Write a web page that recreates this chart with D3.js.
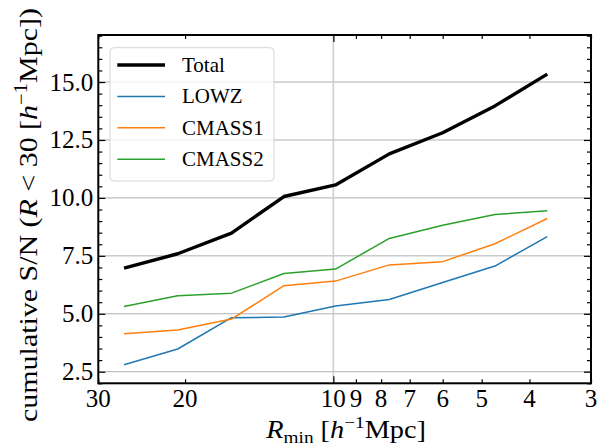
<!DOCTYPE html>
<html>
<head>
<meta charset="utf-8">
<script src="https://cdn.jsdelivr.net/npm/d3@7"></script>
<style>
  html, body { margin: 0; padding: 0; background: #fff; }
  svg { display: block; font-family: 'Liberation Serif', 'Times New Roman', serif; }
</style>
</head>
<body>
<div id="chart"></div>
<script>
// R_min bin centres (h^-1 Mpc)
const rmin = [26.6, 20.7, 16.1, 12.6, 9.9, 7.7, 6.0, 4.7, 3.68]

const totalSN = [6.97, 7.59, 8.48, 10.06, 10.56, 11.9, 12.81, 13.97, 15.34]
const lowzSN = [2.8, 3.48, 4.83, 4.86, 5.34, 5.62, 6.35, 7.06, 8.33]
const cmass1SN = [4.14, 4.3, 4.77, 6.21, 6.41, 7.11, 7.25, 8.02, 9.11]
const cmass2SN = [5.31, 5.78, 5.89, 6.74, 6.93, 8.25, 8.82, 9.28, 9.45]

const xTickLabels = [30, 20, 10, 9, 8, 7, 6, 5, 4, 3]
const xMajorTicks = [10]
const yTicks = [2.5, 5, 7.5, 10, 12.5, 15]

const seriesList = [
  { label: 'Total', values: totalSN, color: '#000000', width: 3.4 },
  { label: 'LOWZ', values: lowzSN, color: '#1f77b4', width: 1.5 },
  { label: 'CMASS1', values: cmass1SN, color: '#ff7f0e', width: 1.5 },
  { label: 'CMASS2', values: cmass2SN, color: '#2ca02c', width: 1.5 },
]

const width = 609
const height = 445
const margin = { top: 35, right: 18, bottom: 61.7, left: 98.3 }
const innerW = width - margin.left - margin.right
const innerH = height - margin.top - margin.bottom

const svg = d3.select('#chart').append('svg').attr('width', width).attr('height', height)
const g = svg.append('g').attr('transform', `translate(${margin.left},${margin.top})`)

const x = d3.scaleLog().domain([30, 3]).range([0, innerW])
const y = d3.scaleLinear().domain([2.0, 17.03]).range([innerH, 0])

// grid
g.append('g')
  .selectAll('line')
  .data(yTicks)
  .join('line')
  .attr('x1', 0)
  .attr('x2', innerW)
  .attr('y1', (d) => y(d))
  .attr('y2', (d) => y(d))
  .attr('stroke', '#b0b0b0')
  .attr('stroke-width', 1)

g.append('g')
  .selectAll('line')
  .data(xMajorTicks)
  .join('line')
  .attr('x1', (d) => x(d))
  .attr('x2', (d) => x(d))
  .attr('y1', 0)
  .attr('y2', innerH)
  .attr('stroke', '#cfcfcf')
  .attr('stroke-width', 1.6)

// lines (coloured first, total on top)
const line = d3
  .line()
  .x((d, i) => x(rmin[i]))
  .y((d) => y(d))

g.append('g')
  .selectAll('path')
  .data(seriesList.slice(1).concat(seriesList.slice(0, 1)))
  .join('path')
  .attr('fill', 'none')
  .attr('stroke', (d) => d.color)
  .attr('stroke-width', (d) => d.width)
  .attr('stroke-linejoin', 'round')
  .attr('d', (d) => line(d.values))

// ticks, inward on all four sides
const xMinor = xTickLabels.filter((d) => !xMajorTicks.includes(d))
const yMinor = d3.range(2.0, 17.01, 0.5).filter((d) => Math.abs(d / 2.5 - Math.round(d / 2.5)) > 1e-6)

function xAxis(gen, ticks, size) {
  return gen(x).tickValues(ticks).tickSize(-size).tickFormat('')
}
function yAxis(gen, ticks, size) {
  return gen(y).tickValues(ticks).tickSize(-size).tickFormat('')
}

const axes = g.append('g').attr('class', 'ticks')
axes.append('g').attr('transform', `translate(0,${innerH})`).call(xAxis(d3.axisBottom, xMajorTicks, 7))
axes.append('g').attr('transform', `translate(0,${innerH})`).call(xAxis(d3.axisBottom, xMinor, 4))
axes.append('g').call(xAxis(d3.axisTop, xMajorTicks, 7))
axes.append('g').call(xAxis(d3.axisTop, xMinor, 4))
axes.append('g').call(yAxis(d3.axisLeft, yTicks, 7))
axes.append('g').call(yAxis(d3.axisLeft, yMinor, 4))
axes.append('g').attr('transform', `translate(${innerW},0)`).call(yAxis(d3.axisRight, yTicks, 7))
axes.append('g').attr('transform', `translate(${innerW},0)`).call(yAxis(d3.axisRight, yMinor, 4))
axes.selectAll('.domain').remove()
axes.selectAll('line').attr('stroke', '#000').attr('stroke-width', 1.2)

// frame
g.append('rect')
  .attr('width', innerW)
  .attr('height', innerH)
  .attr('fill', 'none')
  .attr('stroke', '#000')
  .attr('stroke-width', 2)

// tick labels
g.append('g')
  .selectAll('text')
  .data(yTicks)
  .join('text')
  .attr('x', -5)
  .attr('y', (d) => y(d) + 8.5)
  .attr('text-anchor', 'end')
  .style('font-size', '25px')
  .text((d) => d3.format('.1f')(d))

g.append('g')
  .selectAll('text')
  .data(xTickLabels)
  .join('text')
  .attr('x', (d) => x(d))
  .attr('y', innerH + 23.5)
  .attr('text-anchor', 'middle')
  .style('font-size', '25px')
  .text((d) => d)

// legend
const legend = g.append('g').attr('transform', `translate(${110 - margin.left},${47.7 - margin.top})`)
legend
  .append('rect')
  .attr('width', 164)
  .attr('height', 133.3)
  .attr('rx', 4)
  .attr('fill', '#fff')
  .attr('fill-opacity', 0.8)
  .attr('stroke', '#d6d6d6')
  .attr('stroke-width', 1)

const rows = legend
  .selectAll('g.row')
  .data(seriesList)
  .join('g')
  .attr('class', 'row')
  .attr('transform', (d, i) => `translate(0,${17.3 + i * 31.4})`)
rows
  .append('line')
  .attr('x1', 7.3)
  .attr('x2', 55)
  .attr('stroke', (d) => d.color)
  .attr('stroke-width', (d) => d.width)
rows
  .append('text')
  .attr('x', 72)
  .attr('y', 7)
  .style('font-size', '21px')
  .text((d) => d.label)

// axis labels
function stretchTo(textSel, target) {
  const w = textSel.node().getBBox().width
  textSel.attr('transform', `scale(${target / w},1)`)
}

const xLab = svg
  .append('g')
  .attr('transform', `translate(${margin.left + innerW / 2 + 1.5},437.5)`)
  .append('text')
  .attr('text-anchor', 'middle')
  .style('font-size', '25px')
xLab.append('tspan').attr('font-style', 'italic').text('R')
xLab.append('tspan').attr('dy', 5).style('font-size', '17px').text('min')
xLab.append('tspan').attr('dy', -5).text(' [')
xLab.append('tspan').attr('font-style', 'italic').text('h')
xLab.append('tspan').attr('dy', -10).style('font-size', '17px').text('\u22121')
xLab.append('tspan').attr('dy', 10).text('Mpc]')
stretchTo(xLab, 161)

const yLab = svg
  .append('g')
  .attr('transform', `translate(36.5,${215}) rotate(-90)`)
  .append('text')
  .attr('text-anchor', 'middle')
  .style('font-size', '26px')
yLab.append('tspan').text('cumulative S/N (')
yLab.append('tspan').attr('font-style', 'italic').text('R')
yLab.append('tspan').text(' < 30 [')
yLab.append('tspan').attr('font-style', 'italic').text('h')
yLab.append('tspan').attr('dy', -10).style('font-size', '18px').text('\u22121')
yLab.append('tspan').attr('dy', 10).text('Mpc])')
stretchTo(yLab, 414)
</script>
</body>
</html>
